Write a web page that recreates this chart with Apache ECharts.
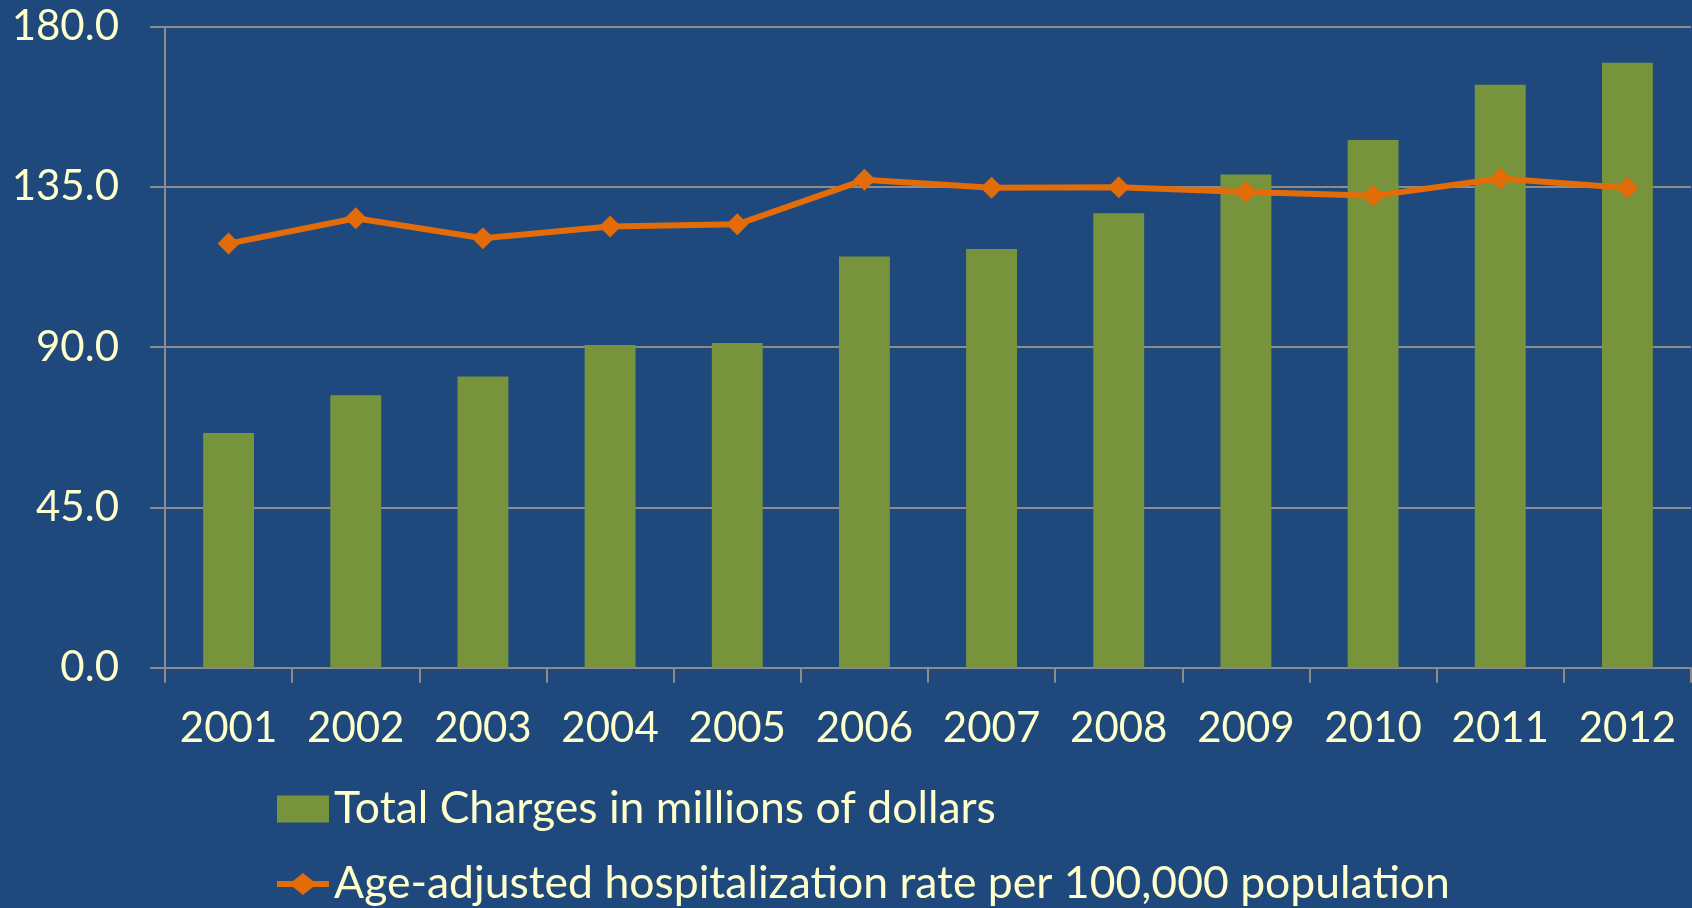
<!DOCTYPE html>
<html lang="en">

<head>
    <meta charset="UTF-8">
    <title>Total Charges and Hospitalization Rate</title>
    <script src="https://cdn.jsdelivr.net/npm/echarts@6/dist/echarts.min.js"></script>
    <style>
        html, body { margin: 0; padding: 0; background: #1F497D; }
        #myecharts { width: 1692px; height: 908px; }
    </style>
</head>

<body>
    <div id="myecharts"></div>
</body>

<script>
    // 数据
    var years = ['2001', '2002', '2003', '2004', '2005', '2006', '2007', '2008', '2009', '2010', '2011', '2012'];
    var totalCharges = [65.9, 76.5, 81.8, 90.6, 91.2, 115.5, 117.6, 127.6, 138.5, 148.2, 163.7, 169.9];
    var hospRate = [119.1, 126.2, 120.6, 123.9, 124.5, 137.0, 134.8, 134.9, 133.6, 132.5, 137.4, 134.7];
    var yTicks = [0, 45, 90, 135, 180];

    var txt = '#FFFFCC';
    var gridColor = '#8C8C8C';
    var orange = '#E36C09';
    var font = 'Lato';

    // 图例里的线+菱形
    var lineIcon = 'path://M0,8 H16 L26,0 L36,8 H52 V14 H36 L26,22 L16,14 H0 Z';

    var myChart = echarts.init(document.getElementById('myecharts'));

    myChart.setOption({
        backgroundColor: '#1F497D',
        animation: false,
        grid: {
            left: 165,
            right: 1,
            top: 26.7,
            bottom: 240.3
        },
        legend: [
            {
                data: [{ name: 'Total Charges in millions of dollars', icon: 'rect' }],
                left: 277,
                top: 782,
                padding: 0,
                itemWidth: 52,
                itemHeight: 27,
                textStyle: { color: txt, fontFamily: font, fontSize: 44.5, lineHeight: 54 }
            },
            {
                data: [{ name: 'Age-adjusted hospitalization rate per 100,000 population', icon: lineIcon }],
                left: 277,
                top: 857,
                padding: 0,
                itemWidth: 52,
                itemHeight: 22,
                textStyle: { color: txt, fontFamily: font, fontSize: 44.5, lineHeight: 54 }
            }
        ],
        xAxis: {
            type: 'category',
            data: years,
            axisLine: { lineStyle: { color: gridColor, width: 2 } },
            axisTick: { show: true, length: 15, lineStyle: { color: gridColor, width: 2 } },
            axisLabel: { color: txt, fontFamily: font, fontSize: 42, lineHeight: 42, margin: 40 }
        },
        yAxis: {
            type: 'value',
            min: yTicks[0],
            max: yTicks[yTicks.length - 1],
            interval: 45,
            axisLine: { show: true, lineStyle: { color: gridColor, width: 2 } },
            axisTick: { show: true, length: 15, lineStyle: { color: gridColor, width: 2 } },
            splitLine: { lineStyle: { color: gridColor, width: 2 } },
            axisLabel: {
                color: txt, fontFamily: font, fontSize: 42, margin: 46,
                formatter: function (v) { return v.toFixed(1); }
            }
        },
        series: [
            {
                name: 'Total Charges in millions of dollars',
                type: 'bar',
                data: totalCharges,
                barCategoryGap: '60%',
                itemStyle: { color: '#77933C' }
            },
            {
                name: 'Age-adjusted hospitalization rate per 100,000 population',
                type: 'line',
                data: hospRate,
                symbol: 'diamond',
                symbolSize: 22,
                lineStyle: { color: orange, width: 6 },
                itemStyle: { color: orange }
            }
        ]
    });
</script>

</html>
